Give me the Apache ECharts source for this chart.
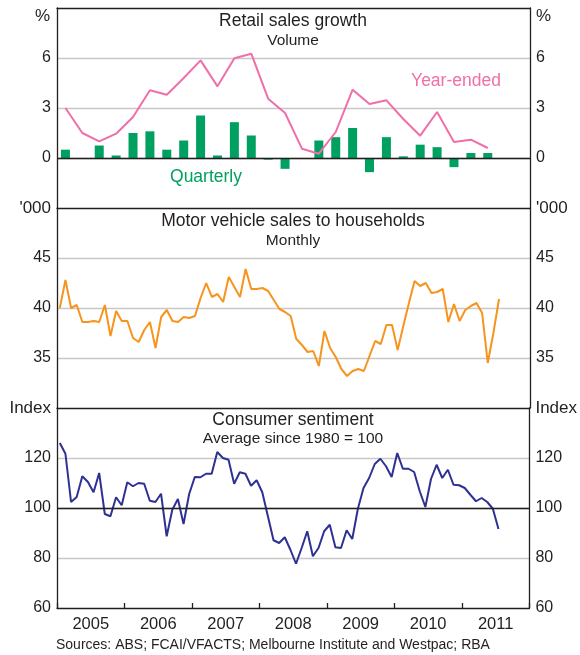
<!DOCTYPE html>
<html lang="en">
<head>
<meta charset="UTF-8">
<title>Consumption indicators</title>
<script src="https://cdn.jsdelivr.net/npm/echarts@6/dist/echarts.min.js"></script>
<style>
  body { margin: 0; background: #fff; }
  #main { width: 580px; height: 655px; }
</style>
</head>
<body>
<div id="main"></div>
<script>
  // year labels on the bottom axis
  let years = ['2005', '2006', '2007', '2008', '2009', '2010', '2011'];

  // retail sales volume, quarterly from Mar 2005 to Jun 2011 (%)
  let retailQuarterly = [0.5, 0.0, 0.75, 0.15, 1.5, 1.6, 0.5, 1.05, 2.55, 0.15, 2.15, 1.35, -0.1,
    -0.65, 0.0, 1.05, 1.25, 1.8, -0.85, 1.25, 0.1, 0.8, 0.65, -0.55, 0.3, 0.3];
  let retailYearEnded = [3.0, 1.5, 1.0, 1.46, 2.46, 4.06, 3.8, 4.8, 5.86, 4.3, 5.98, 6.26, 3.56,
    2.7, 0.56, 0.26, 1.56, 4.1, 3.24, 3.46, 2.34, 1.34, 2.76, 0.96, 1.1, 0.6];

  // motor vehicle sales to households, monthly from Jan 2005 ('000)
  let motorVehicles = [
    40.0, 42.8, 40.0, 40.3, 38.6, 38.6, 38.7, 38.6, 40.3, 37.2, 39.7, 38.7,
    38.7, 37.0, 36.6, 37.8, 38.6, 36.0, 39.1, 39.8, 38.7, 38.6, 39.1, 39.0,
    39.2, 41.0, 42.5, 41.1, 41.4, 40.6, 43.1, 42.1, 41.1, 43.9, 41.9, 41.9,
    42.0, 41.7, 40.8, 39.9, 39.6, 39.2, 36.9, 36.3, 35.6, 35.7, 34.2, 37.7,
    36.0, 35.1, 33.9, 33.2, 33.7, 33.9, 33.7, 35.2, 36.7, 36.4, 38.3, 38.3,
    35.8, 38.2, 40.5, 42.7, 42.2, 42.5, 41.5, 41.6, 41.9, 38.6, 40.4, 38.7,
    39.8, 40.2, 40.5, 39.5, 34.5, 37.5, 40.9
  ];

  // consumer sentiment index, monthly from Jan 2005
  let sentiment = [
    126.0, 121.7, 102.4, 104.4, 112.7, 110.4, 106.3, 114.0, 97.6, 96.7, 104.3, 101.1,
    110.3, 108.7, 110.0, 109.7, 102.9, 102.4, 105.7, 88.7, 99.3, 103.6, 93.6, 105.6,
    112.4, 112.3, 113.7, 113.7, 122.4, 120.0, 119.3, 109.7, 114.3, 113.7, 108.9, 111.1,
    106.3, 96.7, 87.1, 86.0, 88.3, 83.3, 77.7, 84.0, 90.7, 80.7, 84.0, 90.7,
    93.3, 84.3, 84.0, 91.1, 87.6, 99.7, 108.0, 112.0, 117.6, 119.7, 116.7, 112.4,
    122.0, 115.7, 115.7, 114.4, 106.7, 100.4, 111.6, 117.3, 112.0, 115.3, 109.3, 109.1,
    108.0, 105.3, 102.7, 104.0, 102.4, 99.7, 91.6
  ];

  const FONT = '"Liberation Sans", Arial, sans-serif';
  const TXT = '#231f20';
  const LINE = '#231f20';
  const GRID_LINE = '#c8c8c8';

  // monthly points sit mid-month, quarterly ones mid-quarter
  function monthly(arr) {
    return arr.map((v, i) => [2005 + (i + 0.5) / 12, v]);
  }
  function quarterly(arr) {
    return arr.map((v, i) => [2005 + (i * 3 + 1.5) / 12, v]);
  }

  function timeAxis(grid) {
    return {
      type: 'value', gridIndex: grid, position: 'top', min: 2005, max: 2012,
      axisLine: { show: true, onZero: false, lineStyle: { color: LINE, width: 1.3 } },
      axisTick: { show: false }, axisLabel: { show: false }, splitLine: { show: false }
    };
  }

  function valAxis(grid, pos, min, max, step, fmt) {
    return {
      type: 'value', gridIndex: grid, position: pos, min: min, max: max, interval: step,
      axisLine: { show: true, onZero: false, lineStyle: { color: LINE, width: 1.3 } },
      axisTick: { show: false },
      axisLabel: {
        fontFamily: FONT, fontSize: 16, color: TXT, margin: 6, formatter: fmt,
        rich: { u: { fontFamily: FONT, fontSize: 17, color: TXT } }
      },
      splitLine: {
        show: pos == 'left', showMinLine: false, showMaxLine: false,
        lineStyle: { color: GRID_LINE, width: 1.3 }
      }
    };
  }

  function zeroLine(y) {
    return {
      silent: true, symbol: 'none', animation: false,
      label: { show: false },
      lineStyle: { color: LINE, type: 'solid', width: 1.3 },
      emphasis: { disabled: true },
      data: [{ yAxis: y }]
    };
  }

  let fmtRetail = v => (v == -3 || v == 9) ? '' : String(v);
  let fmtMotor = v => v == 50 ? "{u|'000}" : (v == 30 ? '' : String(v));
  let fmtSent = v => v == 140 ? '{u|Index}' : String(v);

  function txt(x, y, s, size, color, align) {
    return {
      type: 'text', x: x, y: y,
      style: {
        text: s, fontFamily: FONT, fontSize: size, fill: color || TXT,
        textAlign: align || 'center', textVerticalAlign: 'middle'
      }
    };
  }

  let myChart = echarts.init(document.getElementById('main'));
  let option = {
    animation: false,
    grid: [
      { left: 57, right: 50, top: 8, height: 200 },
      { left: 57, right: 50, top: 208, height: 200 },
      { left: 57, right: 50, top: 408, height: 200 }
    ],
    xAxis: [
      timeAxis(0), timeAxis(1), timeAxis(2),
      {
        type: 'category', gridIndex: 2, position: 'bottom', data: years, boundaryGap: true,
        axisLine: { show: true, lineStyle: { color: LINE, width: 1.3 } },
        axisTick: { show: true, inside: true, length: 5, lineStyle: { color: LINE, width: 1.3 } },
        axisLabel: { fontFamily: FONT, fontSize: 16.5, color: TXT, margin: 8 },
        splitLine: { show: false }
      }
    ],
    yAxis: [
      valAxis(0, 'left', -3, 9, 3, fmtRetail),
      valAxis(0, 'right', -3, 9, 3, fmtRetail),
      valAxis(1, 'left', 30, 50, 5, fmtMotor),
      valAxis(1, 'right', 30, 50, 5, fmtMotor),
      valAxis(2, 'left', 60, 140, 20, fmtSent),
      valAxis(2, 'right', 60, 140, 20, fmtSent)
    ],
    series: [
      {
        name: 'Quarterly', type: 'bar', xAxisIndex: 0, yAxisIndex: 0,
        data: quarterly(retailQuarterly), barWidth: 9,
        itemStyle: { color: '#00a160' },
        markLine: zeroLine(0)
      },
      {
        name: 'Year-ended', type: 'line', xAxisIndex: 0, yAxisIndex: 0,
        data: quarterly(retailYearEnded), symbol: 'none',
        lineStyle: { color: '#f06eaa', width: 2 }
      },
      {
        name: 'Motor vehicles', type: 'line', xAxisIndex: 1, yAxisIndex: 2,
        data: monthly(motorVehicles), symbol: 'none',
        lineStyle: { color: '#f7941d', width: 2 }
      },
      {
        name: 'Sentiment', type: 'line', xAxisIndex: 2, yAxisIndex: 4,
        data: monthly(sentiment), symbol: 'none',
        lineStyle: { color: '#2e3192', width: 2 },
        markLine: zeroLine(100)
      }
    ],
    graphic: [
      txt(50, 16, '%', 17, TXT, 'right'),
      txt(536, 16, '%', 17, TXT, 'left'),
      txt(293, 21, 'Retail sales growth', 17.5),
      txt(293, 41, 'Volume', 15.5),
      txt(456, 81, 'Year-ended', 17.5, '#f06eaa'),
      txt(206, 177, 'Quarterly', 17.5, '#00a160'),
      txt(293, 221, 'Motor vehicle sales to households', 17.5),
      txt(293, 241, 'Monthly', 15.5),
      txt(293, 420, 'Consumer sentiment', 17.5),
      txt(293, 439, 'Average since 1980 = 100', 15.5),
      txt(56, 645, 'Sources: ABS; FCAI/VFACTS; Melbourne Institute and Westpac; RBA', 14, TXT, 'left')
    ]
  };
  myChart.setOption(option);
</script>
</body>
</html>
